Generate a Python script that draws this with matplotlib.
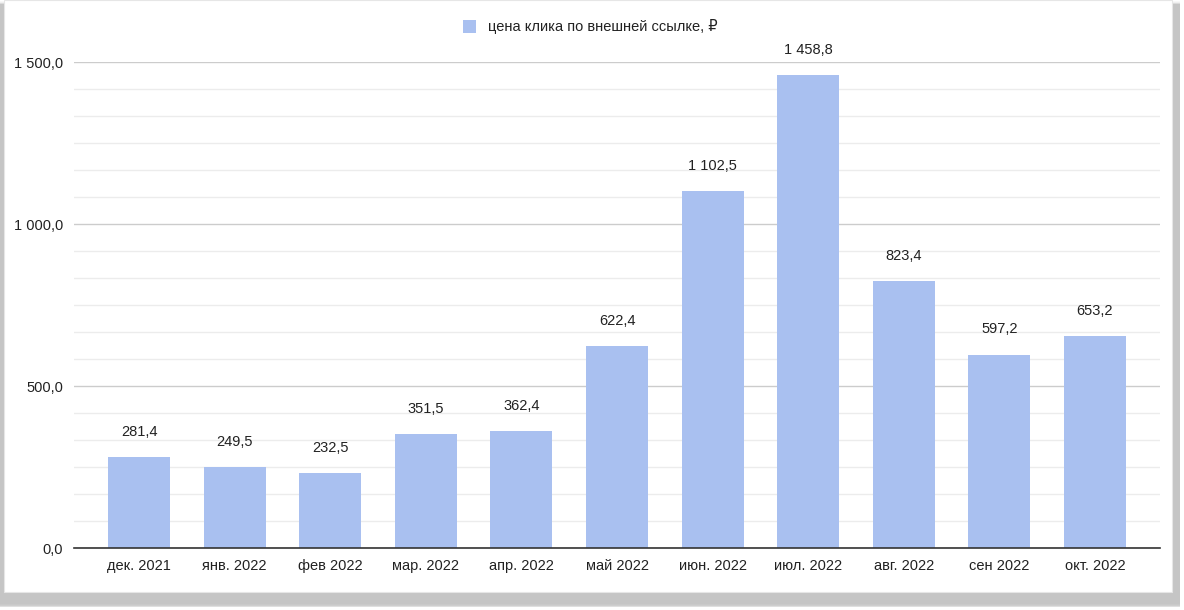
import matplotlib
matplotlib.use('Agg')
import matplotlib.pyplot as plt
import matplotlib.patches as mpatches
from matplotlib.ticker import MultipleLocator, FuncFormatter
import numpy as np

plt.rcParams['font.family'] = ['Liberation Sans', 'DejaVu Sans']

months = ['дек. 2021', 'янв. 2022', 'фев 2022', 'мар. 2022', 'апр. 2022', 'май 2022',
          'июн. 2022', 'июл. 2022', 'авг. 2022', 'сен 2022', 'окт. 2022']
cost = [281.4, 249.5, 232.5, 351.5, 362.4, 622.4, 1102.5, 1458.8, 823.4, 597.2, 653.2]
series_name = 'цена клика по внешней ссылке, ₽'

bar_color = '#a9c0f0'


def ru_fmt(v, pos=None):
    s = '{:,.1f}'.format(v)
    return s.replace(',', ' ').replace('.', ',')


fig = plt.figure(figsize=(11.84, 6.10), dpi=100)

# card with soft shadow
for i, a in enumerate([0.05, 0.07, 0.09, 0.11, 0.13, 0.15]):
    d = 6 - i
    fig.patches.append(mpatches.Rectangle(
        ((0 - d * 0.3) / 1184, (610 - 605 + d * 0.6 - 3) / 610),
        (1180 + d * 0.3) / 1184, (605 - 2) / 610,
        transform=fig.transFigure, facecolor='#888888', alpha=a,
        edgecolor='none', zorder=0))
fig.patches.append(mpatches.Rectangle(
    (4 / 1184, 18 / 610), 1168 / 1184, 592 / 610,
    transform=fig.transFigure, facecolor='white', edgecolor='#e6e6e6',
    linewidth=0.8, zorder=1))

ax = fig.add_axes([74 / 1184, 1 - 548 / 610, (1160 - 74) / 1184, (548 - 62) / 610])
ax.set_zorder(2)
ax.patch.set_alpha(0)

x = np.arange(len(months))
bars = ax.bar(x, cost, width=0.65, color=bar_color, label=series_name, zorder=3)

for xi, v in zip(x, cost):
    ax.annotate(ru_fmt(v), (xi, v), xytext=(0, 13), textcoords='offset points',
                ha='center', va='bottom', fontsize=10.5, color='#222222')

ax.set_xlim(-0.68, 10.68)
ax.set_ylim(0, 1500)
ax.yaxis.set_major_locator(MultipleLocator(500))
ax.yaxis.set_minor_locator(MultipleLocator(500 / 6))
ax.yaxis.set_major_formatter(FuncFormatter(ru_fmt))
ax.grid(axis='y', which='major', color='#cccccc', linewidth=1, zorder=0)
ax.grid(axis='y', which='minor', color='#ececec', linewidth=1, zorder=0)
ax.set_axisbelow(True)

ax.set_xticks(x)
ax.set_xticklabels(months)
ax.tick_params(axis='both', which='both', length=0, labelsize=10.5, colors='#222222')
ax.tick_params(axis='y', pad=8)
ax.tick_params(axis='x', pad=8)
for side in ['top', 'right', 'left']:
    ax.spines[side].set_visible(False)
ax.spines['bottom'].set_color('#333333')
ax.spines['bottom'].set_linewidth(1.2)
ax.spines['bottom'].set_zorder(4)

fig.legend(handles=[bars], labels=[series_name], loc='center',
           bbox_to_anchor=(590 / 1184, 1 - 27 / 610), frameon=False,
           fontsize=10.5, handlelength=0.9, handleheight=0.9, handletextpad=0.8,
           labelcolor='#222222')

plt.savefig('out.png', dpi=100)
